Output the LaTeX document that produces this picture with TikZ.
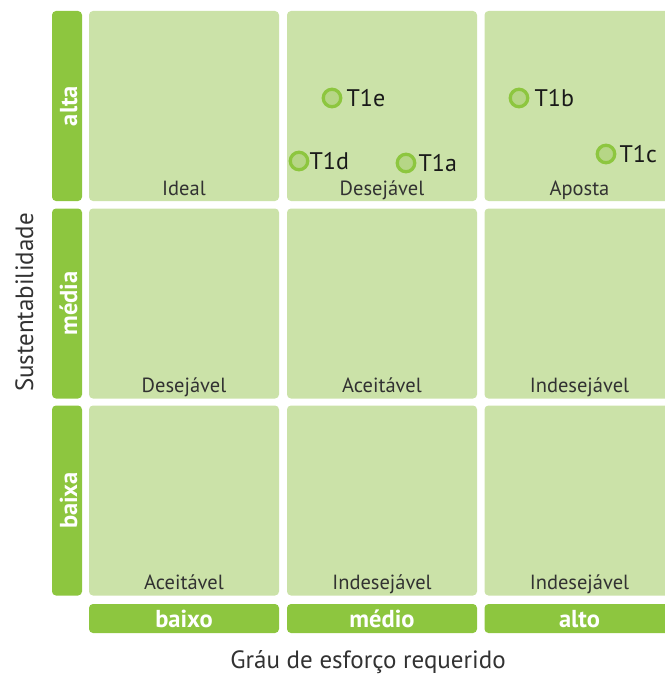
\documentclass[tikz,border=0pt]{standalone}
\usepackage{fontspec}
\setmainfont{PT Sans}
\usetikzlibrary{positioning}
\definecolor{bargreen}{RGB}{141,198,63}
\definecolor{cellgreen}{RGB}{203,226,168}
\definecolor{ringfill}{RGB}{182,214,134}
\definecolor{labelgray}{RGB}{50,50,50}
\tikzset{
  cell/.style={
    rectangle, rounded corners=4pt, fill=cellgreen,
    minimum width=190pt, minimum height=190pt, inner sep=0pt
  },
  levelbar/.style={
    rectangle, rounded corners=4pt, fill=bargreen, inner sep=0pt,
    minimum width=190pt, text=white,
    font=\bfseries\fontsize{24.5}{24.5}\selectfont, text depth=0pt
  },
  verdict/.style={
    anchor=base, inner sep=0pt, text=labelgray,
    font=\fontsize{20.5}{20.5}\selectfont
  },
  option/.style={
    circle, draw=bargreen, fill=ringfill, line width=3.3pt,
    minimum size=17.5pt, inner sep=0pt
  },
  tag/.style={
    inner sep=0pt, text=black!90,
    font=\fontsize{24}{24}\selectfont
  },
  axistitle/.style={
    anchor=base, inner sep=0pt, text=labelgray,
    font=\fontsize{25}{25}\selectfont
  }
}
\begin{document}
\begin{tikzpicture}[x=1pt,y=-1pt]
  \useasboundingbox (0,0) rectangle (664,674);
  % grid
  \node[cell] (c11) at (184,106) {};
  \node[cell] (c12) at (382,106) {};
  \node[cell] (c13) at (579.5,106) {};
  \node[cell] (c21) at (184,303.5) {};
  \node[cell] (c22) at (382,303.5) {};
  \node[cell] (c23) at (579.5,303.5) {};
  \node[cell] (c31) at (184,500.5) {};
  \node[cell] (c32) at (382,500.5) {};
  \node[cell] (c33) at (579.5,500.5) {};
  \node[verdict] (v11) at ([yshift=6pt]c11.south) {Ideal};
  \node[verdict] (v12) at ([yshift=6pt]c12.south) {Desejável};
  \node[verdict] (v13) at ([yshift=6pt]c13.south) {Aposta};
  \node[verdict] (v21) at ([yshift=6pt]c21.south) {Desejável};
  \node[verdict] (v22) at ([yshift=6pt]c22.south) {Aceitável};
  \node[verdict] (v23) at ([yshift=6pt]c23.south) {Indesejável};
  \node[verdict] (v31) at ([yshift=6pt]c31.south) {Aceitável};
  \node[verdict] (v32) at ([yshift=6pt]c32.south) {Indesejável};
  \node[verdict] (v33) at ([yshift=6pt]c33.south) {Indesejável};
  % sustainability levels
  \node[levelbar, rotate=90, minimum height=30pt, text height=20pt] (alta) at (67,106) {alta};
  \node[levelbar, rotate=90, minimum height=30pt, text height=20pt] (media) at (67,303.5) {média};
  \node[levelbar, rotate=90, minimum height=30pt, text height=20pt] (baixa) at (67,500.5) {baixa};
  % effort levels
  \node[levelbar, minimum height=29pt, text height=17pt] (baixo) at (184,618.5) {baixo};
  \node[levelbar, minimum height=29pt, text height=17pt] (medio) at (382,618.5) {médio};
  \node[levelbar, minimum height=29pt, text height=17pt] (alto) at (579.5,618.5) {alto};
  % options
  \node[option] (t1e) at (332,98) {};
  \node[option] (t1d) at (299,161) {};
  \node[option] (t1a) at (406,163) {};
  \node[option] (t1b) at (519,98) {};
  \node[option] (t1c) at (606,154) {};
  \node[tag, right=4pt of t1e] (t1e text) {T1e};
  \node[tag, right=0pt of t1d] (t1d text) {T1d};
  \node[tag, right=2pt of t1a] (t1a text) {T1a};
  \node[tag, right=5pt of t1b] (t1b text) {T1b};
  \node[tag, right=3pt of t1c] (t1c text) {T1c};
  % axes
  \node[axistitle, rotate=90] (ytitle) at (33,302.5) {Sustentabilidade};
  \node[axistitle] (xtitle) at (368,668) {Gráu de esforço requerido};
\end{tikzpicture}
\end{document}
